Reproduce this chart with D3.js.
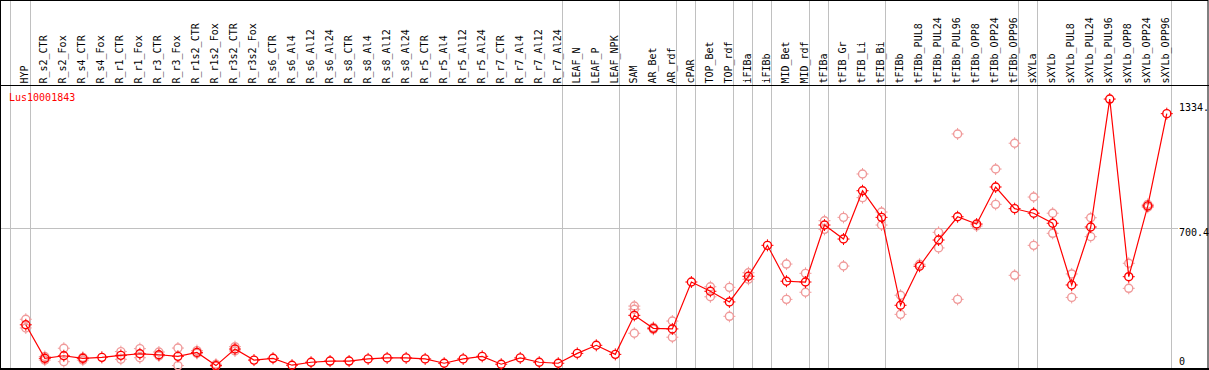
<!DOCTYPE html>
<html>
<head>
<meta charset="utf-8">
<script src="https://cdn.jsdelivr.net/npm/d3@7"></script>
<style>
  html, body { margin: 0; padding: 0; background: #fff; }
  svg { display: block; }
  text { font-family: "DejaVu Sans Mono", monospace; font-size: 10px; }
</style>
</head>
<body>
<div id="app"></div>
<script>
const TITLE = "Lus10001843";

const SAMPLES = ['HYP', 'R_s2_CTR', 'R_s2_Fox', 'R_s4_CTR', 'R_s4_Fox', 'R_r1_CTR', 'R_r1_Fox',
  'R_r3_CTR', 'R_r3_Fox', 'R_r1s2_CTR', 'R_r1s2_Fox', 'R_r3s2_CTR', 'R_r3s2_Fox', 'R_s6_CTR',
  'R_s6_Al4', 'R_s6_Al12', 'R_s6_Al24', 'R_s8_CTR', 'R_s8_Al4', 'R_s8_Al12', 'R_s8_Al24',
  'R_r5_CTR', 'R_r5_Al4', 'R_r5_Al12', 'R_r5_Al24', 'R_r7_CTR', 'R_r7_Al4', 'R_r7_Al12',
  'R_r7_Al24', 'LEAF_N', 'LEAF_P', 'LEAF_NPK', 'SAM', 'AR_Bet', 'AR_rdf', 'cPAR', 'TOP_Bet',
  'TOP_rdf', 'iFIBa', 'iFIBb', 'MID_Bet', 'MID_rdf', 'tFIBa', 'tFIB_Gr', 'tFIB_Li', 'tFIB_Bi',
  'tFIBb', 'tFIBb_PUL8', 'tFIBb_PUL24', 'tFIBb_PUL96', 'tFIBb_OPP8', 'tFIBb_OPP24',
  'tFIBb_OPP96', 'sXYLa', 'sXYLb', 'sXYLb_PUL8', 'sXYLb_PUL24', 'sXYLb_PUL96', 'sXYLb_OPP8',
  'sXYLb_OPP24', 'sXYLb_OPP96'];

// mean expression per sample
const MEANS = [209, 39, 52, 39, 44, 54, 62, 57, 49, 69, 2, 86, 30, 39,
  4, 19, 25, 25, 36, 41, 41, 36, 14, 36, 49, 9, 41, 19,
  14, 64, 105, 59, 257, 191, 188, 426, 379, 325, 455, 612, 430, 426, 715, 644, 889, 754,
  308, 506, 639, 757, 720, 908, 798, 775, 724, 411, 705, 1354, 453, 812, 1280];

// individual replicates (only the ones that stand apart from the mean)
const REPLICATES = [[237, 193], [30, 48], [90, 22], [44, 30], [], [73, 34], [88, 42],
  [71, 51], [91, 2], [78, 64], [9, 0], [98, 76], [], [],
  [], [], [], [], [], [], [], [], [], [], [], [], [], [],
  [], [], [], [], [304, 288, 166], [196, 186], [228, 146], [], [402, 351], [399, 252],
  [473, 440], [], [517, 338], [470, 374], [737, 693], [754, 507], [974, 854], [781, 715],
  [359, 262], [516], [678, 599], [1177, 338], [710], [999, 820], [1130, 460], [857, 612],
  [775, 673], [467, 348], [752, 656], [], [521, 394], [820, 805], []];

// last sample of each group, a grey rule is drawn after it
const GROUP_ENDS = ['HYP', 'R_r7_Al24', 'LEAF_NPK', 'AR_rdf', 'cPAR', 'TOP_rdf', 'iFIBa',
  'iFIBb', 'MID_rdf', 'tFIBa', 'tFIB_Bi', 'tFIBb_OPP96', 'sXYLa', 'sXYLb_OPP96'];

const Y_TICKS = [0, 700.4, 1334];
const Y_TICK_LABELS = ['0', '700.4', '1334.'];

const width = 1209, height = 370
    , headerBottom = 85.5
    , plotRight = 1170.5;

const x = d3.scaleBand()
    .domain(SAMPLES)
    .range([10.5, plotRight])
    .padding(0);

const px = d => x(d) + 15.3;

const y = d3.scaleLinear()
    .domain([0, 1334])
    .range([366, 103]);

const svg = d3.select("#app").append("svg")
    .attr("width", width)
    .attr("height", height);

// grey rules
svg.append("line")
    .attr("x1", x(SAMPLES[0])).attr("x2", x(SAMPLES[0]))
    .attr("y1", 0).attr("y2", height)
    .style("stroke", "#c0c0c0");

svg.selectAll(".rule")
    .data(GROUP_ENDS)
  .enter().append("line")
    .attr("class", "rule")
    .attr("x1", d => Math.round(x(d) + x.bandwidth()) + 0.5)
    .attr("x2", d => Math.round(x(d) + x.bandwidth()) + 0.5)
    .attr("y1", 0)
    .attr("y2", height)
    .style("stroke", "#c0c0c0");

svg.append("line")
    .attr("x1", 0).attr("x2", 1178)
    .attr("y1", Math.round(y(700.4)) + 0.5).attr("y2", Math.round(y(700.4)) + 0.5)
    .style("stroke", "#c0c0c0");

// frame
svg.append("rect")
    .attr("x", 0.5).attr("y", 0.5)
    .attr("width", width - 1.5).attr("height", height - 1.5)
    .style("fill", "none")
    .style("stroke", "#000");

svg.append("line")
    .attr("x1", 0).attr("x2", width)
    .attr("y1", 369).attr("y2", 369)
    .style("stroke", "#000").style("stroke-width", 2);

svg.append("line")
    .attr("x1", 0).attr("x2", width)
    .attr("y1", headerBottom).attr("y2", headerBottom)
    .style("stroke", "#000");

// sample labels
svg.selectAll(".label")
    .data(SAMPLES)
  .enter().append("text")
    .attr("class", "label")
    .attr("transform", d => `translate(${x(d) + 17.8}, 83.5) rotate(-90)`)
    .style("fill", "#000")
    .text(d => d);

// title
svg.append("text")
    .attr("x", 9)
    .attr("y", 101)
    .style("fill", "#ff0000")
    .text(TITLE);

// value axis on the right
svg.selectAll(".tick-label")
    .data(Y_TICKS)
  .enter().append("text")
    .attr("class", "tick-label")
    .attr("x", 1179)
    .attr("y", d => d === 0 ? y(d) - 1 : y(d) + 8)
    .style("fill", "#000")
    .text((d, i) => Y_TICK_LABELS[i]);

function marker(g, color) {
  g.append("circle")
      .attr("r", 4)
      .style("fill", "none")
      .style("stroke", color)
      .style("stroke-width", 1.4);
  g.append("path")
      .attr("d", "M0,-6V-4M0,4V6M-6,0H-4M4,0H6")
      .style("stroke", color)
      .style("stroke-width", 1);
}

// replicates
const reps = SAMPLES.flatMap((s, i) => REPLICATES[i].map(v => ({ s, v })));

svg.selectAll(".rep")
    .data(reps)
  .enter().append("g")
    .attr("class", "rep")
    .attr("transform", d => `translate(${px(d.s)}, ${y(d.v)})`)
    .each(function () { marker(d3.select(this), "#f09a9a"); });

// mean line
const line = d3.line()
    .x(d => px(d.s))
    .y(d => y(d.v));

const means = SAMPLES.map((s, i) => ({ s, v: MEANS[i] }));

svg.append("path")
    .datum(means)
    .attr("d", line)
    .style("fill", "none")
    .style("stroke", "#ff0000")
    .style("stroke-width", 1.2);

svg.selectAll(".mean")
    .data(means)
  .enter().append("g")
    .attr("class", "mean")
    .attr("transform", d => `translate(${px(d.s)}, ${y(d.v)})`)
    .each(function () { marker(d3.select(this), "#ff0000"); });
</script>
</body>
</html>
